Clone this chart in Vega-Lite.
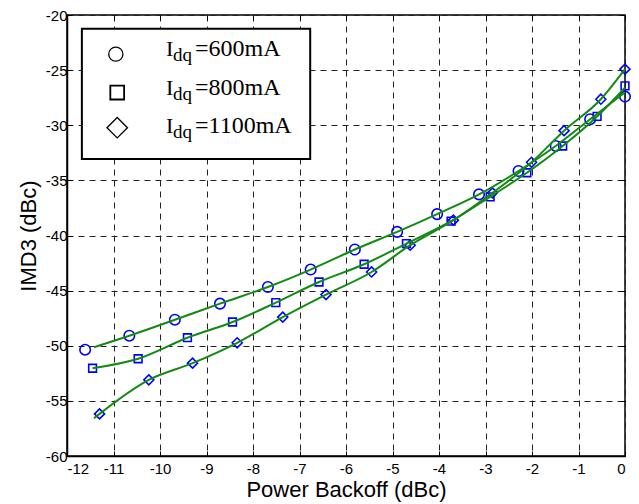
{
  "$schema": "https://vega.github.io/schema/vega-lite/v6.json",
  "width": 558,
  "height": 441,
  "autosize": "none",
  "padding": {"left": 67, "top": 15, "right": 14, "bottom": 48},
  "background": "white",
  "config": {
    "view": {"stroke": "black", "strokeWidth": 1.5},
    "axis": {
      "domainColor": "black", "domainWidth": 1.5,
      "tickColor": "black", "tickWidth": 1,
      "labelColor": "black", "labelFont": "Liberation Sans", "labelFontSize": 15,
      "titleFont": "Liberation Sans", "titleFontSize": 22, "titleFontWeight": "normal", "titleColor": "black",
      "gridColor": "#222222", "gridDash": [6, 5], "gridWidth": 1, "gridOpacity": 1
    }
  },
  "datasets": {
    "pts": [
      {"s": "600", "x": -11.61, "y": -50.36}, {"s": "600", "x": -10.66, "y": -49.09}, {"s": "600", "x": -9.68, "y": -47.64},
      {"s": "600", "x": -8.71, "y": -46.18}, {"s": "600", "x": -7.68, "y": -44.67}, {"s": "600", "x": -6.76, "y": -43.09},
      {"s": "600", "x": -5.81, "y": -41.27}, {"s": "600", "x": -4.90, "y": -39.67}, {"s": "600", "x": -4.04, "y": -38.06},
      {"s": "600", "x": -3.14, "y": -36.27}, {"s": "600", "x": -2.29, "y": -34.15}, {"s": "600", "x": -1.49, "y": -31.88},
      {"s": "600", "x": -0.75, "y": -29.45}, {"s": "600", "x": 0, "y": -27.4},
      {"s": "800", "x": -11.45, "y": -52.04}, {"s": "800", "x": -10.47, "y": -51.18}, {"s": "800", "x": -9.41, "y": -49.27},
      {"s": "800", "x": -8.44, "y": -47.85}, {"s": "800", "x": -7.51, "y": -46.09}, {"s": "800", "x": -6.58, "y": -44.22},
      {"s": "800", "x": -5.61, "y": -42.61}, {"s": "800", "x": -4.70, "y": -40.73}, {"s": "800", "x": -3.74, "y": -38.70},
      {"s": "800", "x": -2.90, "y": -36.49}, {"s": "800", "x": -2.11, "y": -34.31}, {"s": "800", "x": -1.34, "y": -31.88},
      {"s": "800", "x": -0.60, "y": -29.2}, {"s": "800", "x": 0, "y": -26.43},
      {"s": "1100", "x": -11.30, "y": -56.18}, {"s": "1100", "x": -10.24, "y": -53.09}, {"s": "1100", "x": -9.30, "y": -51.58},
      {"s": "1100", "x": -8.34, "y": -49.73}, {"s": "1100", "x": -7.36, "y": -47.4}, {"s": "1100", "x": -6.43, "y": -45.36},
      {"s": "1100", "x": -5.45, "y": -43.31}, {"s": "1100", "x": -4.62, "y": -40.88}, {"s": "1100", "x": -3.69, "y": -38.61},
      {"s": "1100", "x": -2.85, "y": -36.13}, {"s": "1100", "x": -2.01, "y": -33.36}, {"s": "1100", "x": -1.31, "y": -30.49},
      {"s": "1100", "x": -0.52, "y": -27.64}, {"s": "1100", "x": 0, "y": -24.91}
    ],
    "curve": [
      {"s": "600", "x": -11.42, "y": -50.13}, {"s": "600", "x": -10.66, "y": -49.09}, {"s": "600", "x": -9.68, "y": -47.64},
      {"s": "600", "x": -8.71, "y": -46.18}, {"s": "600", "x": -7.68, "y": -44.67}, {"s": "600", "x": -6.76, "y": -43.09},
      {"s": "600", "x": -5.81, "y": -41.27}, {"s": "600", "x": -4.90, "y": -39.67}, {"s": "600", "x": -4.04, "y": -38.06},
      {"s": "600", "x": -3.14, "y": -36.27}, {"s": "600", "x": -2.29, "y": -34.15}, {"s": "600", "x": -1.49, "y": -31.88},
      {"s": "600", "x": -0.75, "y": -29.45}, {"s": "600", "x": 0, "y": -27.0},
      {"s": "800", "x": -11.45, "y": -52.04}, {"s": "800", "x": -10.47, "y": -51.18}, {"s": "800", "x": -9.41, "y": -49.27},
      {"s": "800", "x": -8.44, "y": -47.85}, {"s": "800", "x": -7.51, "y": -46.09}, {"s": "800", "x": -6.58, "y": -44.22},
      {"s": "800", "x": -5.61, "y": -42.61}, {"s": "800", "x": -4.70, "y": -40.73}, {"s": "800", "x": -3.74, "y": -38.70},
      {"s": "800", "x": -2.90, "y": -36.49}, {"s": "800", "x": -2.11, "y": -34.31}, {"s": "800", "x": -1.34, "y": -31.88},
      {"s": "800", "x": -0.60, "y": -29.2}, {"s": "800", "x": 0, "y": -26.6},
      {"s": "1100", "x": -11.42, "y": -56.58}, {"s": "1100", "x": -11.30, "y": -56.18}, {"s": "1100", "x": -10.24, "y": -53.09},
      {"s": "1100", "x": -9.30, "y": -51.58}, {"s": "1100", "x": -8.34, "y": -49.73}, {"s": "1100", "x": -7.36, "y": -47.4},
      {"s": "1100", "x": -6.43, "y": -45.36}, {"s": "1100", "x": -5.45, "y": -43.31}, {"s": "1100", "x": -4.62, "y": -40.88},
      {"s": "1100", "x": -3.69, "y": -38.61}, {"s": "1100", "x": -2.85, "y": -36.13}, {"s": "1100", "x": -2.01, "y": -33.36},
      {"s": "1100", "x": -1.31, "y": -30.49}, {"s": "1100", "x": -0.52, "y": -27.64}, {"s": "1100", "x": 0, "y": -24.91}
    ]
  },
  "resolve": {"axis": {"x": "independent", "y": "independent"}},
  "layer": [
    {
      "data": {"name": "pts"},
      "transform": [{"filter": "datum.s === '600'"}],
      "mark": {"type": "point", "shape": "circle", "filled": false, "color": "#0000ff", "strokeWidth": 1.6, "opacity": 1, "size": 110},
      "encoding": {
        "x": {"field": "x", "type": "quantitative",
              "scale": {"domain": [-12, 0], "nice": false, "zero": false},
              "axis": {"orient": "bottom", "values": [-12, -11, -10, -9, -8, -7, -6, -5, -4, -3, -2, -1, 0],
                       "labelExpr": "datum.value + ''",
                       "title": "Power Backoff (dBc)", "grid": true, "tickSize": -5, "labelPadding": 10, "titlePadding": 3}},
        "y": {"field": "y", "type": "quantitative",
              "scale": {"domain": [-60, -20], "nice": false, "zero": false},
              "axis": {"orient": "left", "values": [-60, -55, -50, -45, -40, -35, -30, -25, -20],
                       "labelExpr": "datum.value + ''",
                       "title": "IMD3 (dBc)", "grid": true, "tickSize": -5, "labelPadding": 5, "titlePadding": 5}}
      }
    },
    {
      "data": {"name": "pts"},
      "mark": {"type": "point", "opacity": 0},
      "encoding": {
        "x": {"field": "x", "type": "quantitative",
              "axis": {"orient": "top", "values": [-12, -11, -10, -9, -8, -7, -6, -5, -4, -3, -2, -1, 0],
                       "title": null, "labels": false, "grid": false, "domain": false, "tickSize": -5}},
        "y": {"field": "y", "type": "quantitative",
              "axis": {"orient": "right", "values": [-60, -55, -50, -45, -40, -35, -30, -25, -20],
                       "title": null, "labels": false, "grid": false, "domain": false, "tickSize": -5}}
      }
    },
    {
      "data": {"name": "pts"},
      "transform": [{"filter": "datum.s === '800'"}],
      "mark": {"type": "point", "shape": "square", "filled": false, "color": "#0000ff", "strokeWidth": 1.6, "opacity": 1, "size": 60},
      "encoding": {
        "x": {"field": "x", "type": "quantitative", "axis": null},
        "y": {"field": "y", "type": "quantitative", "axis": null}
      }
    },
    {
      "data": {"name": "pts"},
      "transform": [{"filter": "datum.s === '1100'"}],
      "mark": {"type": "point", "shape": "diamond", "filled": false, "color": "#0000ff", "strokeWidth": 1.6, "opacity": 1, "size": 100},
      "encoding": {
        "x": {"field": "x", "type": "quantitative", "axis": null},
        "y": {"field": "y", "type": "quantitative", "axis": null}
      }
    },
    {
      "data": {"name": "curve"},
      "mark": {"type": "line", "color": "#138a13", "strokeWidth": 2, "interpolate": "monotone"},
      "encoding": {
        "x": {"field": "x", "type": "quantitative", "axis": null},
        "y": {"field": "y", "type": "quantitative", "axis": null},
        "detail": {"field": "s", "type": "nominal"}
      }
    },
    {
      "data": {"values": [{}]},
      "mark": {"type": "rect", "fill": "white", "stroke": "black", "strokeWidth": 2},
      "encoding": {
        "x": {"datum": -11.68, "type": "quantitative", "axis": null},
        "x2": {"datum": -6.77},
        "y": {"datum": -21.25, "type": "quantitative", "axis": null},
        "y2": {"datum": -33.06}
      }
    },
    {
      "data": {"values": [{}]},
      "mark": {"type": "point", "shape": "circle", "filled": false, "color": "black", "size": 200, "strokeWidth": 1.3, "opacity": 1},
      "encoding": {"x": {"datum": -10.95, "type": "quantitative", "axis": null}, "y": {"datum": -23.55, "type": "quantitative", "axis": null}}
    },
    {
      "data": {"values": [{}]},
      "mark": {"type": "point", "shape": "square", "filled": false, "color": "black", "size": 190, "strokeWidth": 1.8, "opacity": 1},
      "encoding": {"x": {"datum": -10.92, "type": "quantitative", "axis": null}, "y": {"datum": -27.04, "type": "quantitative", "axis": null}}
    },
    {
      "data": {"values": [{}]},
      "mark": {"type": "point", "shape": "diamond", "filled": false, "color": "black", "size": 420, "strokeWidth": 1.3, "opacity": 1},
      "encoding": {"x": {"datum": -10.92, "type": "quantitative", "axis": null}, "y": {"datum": -30.22, "type": "quantitative", "axis": null}}
    },
    {
      "data": {"values": [{"t": "I", "y": -23.76}, {"t": "I", "y": -27.25}, {"t": "I", "y": -30.73}]},
      "mark": {"type": "text", "font": "Liberation Serif", "fontSize": 22, "align": "left", "baseline": "alphabetic", "color": "black"},
      "encoding": {"x": {"datum": -9.87, "type": "quantitative", "axis": null}, "y": {"field": "y", "type": "quantitative", "axis": null}, "text": {"field": "t"}}
    },
    {
      "data": {"values": [{"t": "dq", "y": -23.76}, {"t": "dq", "y": -27.25}, {"t": "dq", "y": -30.73}]},
      "mark": {"type": "text", "font": "Liberation Serif", "fontSize": 19, "align": "left", "baseline": "alphabetic", "color": "black", "dx": 7, "dy": 5},
      "encoding": {"x": {"datum": -9.87, "type": "quantitative", "axis": null}, "y": {"field": "y", "type": "quantitative", "axis": null}, "text": {"field": "t"}}
    },
    {
      "data": {"values": [{"t": "=600mA", "y": -23.76}, {"t": "=800mA", "y": -27.25}, {"t": "=1100mA", "y": -30.73}]},
      "mark": {"type": "text", "font": "Liberation Serif", "fontSize": 24, "align": "left", "baseline": "alphabetic", "color": "black", "dx": 29},
      "encoding": {"x": {"datum": -9.87, "type": "quantitative", "axis": null}, "y": {"field": "y", "type": "quantitative", "axis": null}, "text": {"field": "t"}}
    }
  ]
}
